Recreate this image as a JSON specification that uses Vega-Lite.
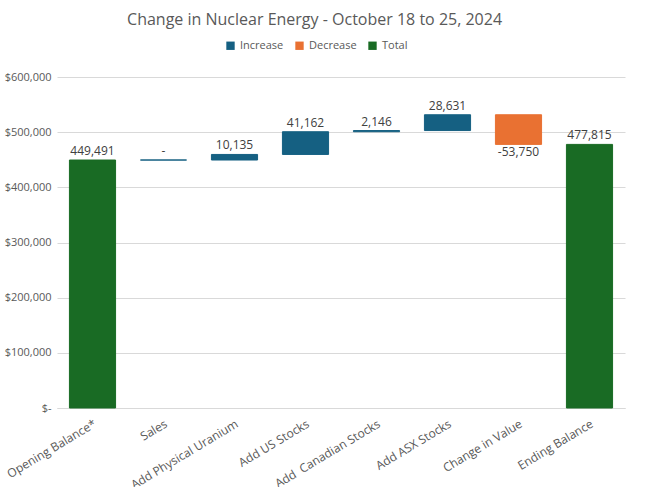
{
  "$schema": "https://vega.github.io/schema/vega-lite/v6.json",
  "autosize": "none",
  "width": 568,
  "height": 331,
  "padding": {"left": 57, "top": 77, "right": 38, "bottom": 79},
  "background": "white",
  "title": {
    "text": "Change in Nuclear Energy - October 18 to 25, 2024",
    "anchor": "middle",
    "frame": "bounds",
    "font": "Open Sans",
    "fontSize": 16,
    "fontWeight": "normal",
    "color": "#595959",
    "offset": 12
  },
  "data": {
    "values": [
      {"category": "Opening Balance*", "start": 0, "end": 449491, "type": "Total", "label": "449,491"},
      {"category": "Sales", "start": 449491, "end": 449491, "type": "Increase", "label": "-"},
      {"category": "Add Physical Uranium", "start": 449491, "end": 459626, "type": "Increase", "label": "10,135"},
      {"category": "Add US Stocks", "start": 459626, "end": 500788, "type": "Increase", "label": "41,162"},
      {"category": "Add\u00a0 Canadian Stocks", "start": 500788, "end": 502934, "type": "Increase", "label": "2,146"},
      {"category": "Add ASX Stocks", "start": 502934, "end": 531565, "type": "Increase", "label": "28,631"},
      {"category": "Change in Value", "start": 531565, "end": 477815, "type": "Decrease", "label": "-53,750"},
      {"category": "Ending Balance", "start": 0, "end": 477815, "type": "Total", "label": "477,815"}
    ]
  },
  "encoding": {
    "x": {
      "field": "category",
      "type": "nominal",
      "sort": null,
      "scale": {"paddingInner": 0.35, "paddingOuter": 0.175},
      "axis": {
        "title": null,
        "labelAngle": -31,
        "labelAlign": "right",
        "labelBaseline": "top",
        "labelFont": "Open Sans",
        "labelFontSize": 12,
        "labelColor": "#595959",
        "labelPadding": 10,
        "ticks": false,
        "domainColor": "#d9d9d9",
        "grid": false
      }
    }
  },
  "layer": [
    {
      "mark": {"type": "bar", "strokeWidth": 1},
      "encoding": {
        "y": {
          "field": "start",
          "type": "quantitative",
          "scale": {"domain": [0, 600000], "nice": false},
          "axis": {
            "title": null,
            "values": [0, 100000, 200000, 300000, 400000, 500000, 600000],
            "labelExpr": "datum.value == 0 ? '$-' : '$' + format(datum.value, ',')",
            "labelFont": "Open Sans",
            "labelFontSize": 11,
            "labelColor": "#595959",
            "labelPadding": 6,
            "ticks": false,
            "domain": false,
            "gridColor": "#d9d9d9"
          }
        },
        "y2": {"field": "end"},
        "color": {
          "field": "type",
          "type": "nominal",
          "scale": {"domain": ["Increase", "Decrease", "Total"], "range": ["#156082", "#E97132", "#196B24"]},
          "legend": {
            "title": null,
            "orient": "none",
            "direction": "horizontal",
            "legendX": 168,
            "legendY": -37,
            "symbolType": "square",
            "symbolSize": 70,
            "symbolStrokeWidth": 0,
            "labelFont": "Open Sans",
            "labelFontSize": 11,
            "labelColor": "#595959",
            "columnPadding": 10,
            "labelOffset": 4
          }
        },
        "stroke": {
          "field": "type",
          "type": "nominal",
          "scale": {"domain": ["Increase", "Decrease", "Total"], "range": ["#156082", "#E97132", "#196B24"]},
          "legend": null
        }
      }
    },
    {
      "transform": [{"filter": "datum.type != 'Decrease'"}],
      "mark": {"type": "text", "baseline": "bottom", "dy": -2, "font": "Open Sans", "fontSize": 12, "color": "#404040"},
      "encoding": {
        "y": {"field": "end", "type": "quantitative"},
        "text": {"field": "label"}
      }
    },
    {
      "transform": [{"filter": "datum.type == 'Decrease'"}],
      "mark": {"type": "text", "baseline": "top", "dy": 3, "font": "Open Sans", "fontSize": 12, "color": "#404040"},
      "encoding": {
        "y": {"field": "end", "type": "quantitative"},
        "text": {"field": "label"}
      }
    }
  ],
  "config": {
    "view": {"stroke": null}
  }
}
